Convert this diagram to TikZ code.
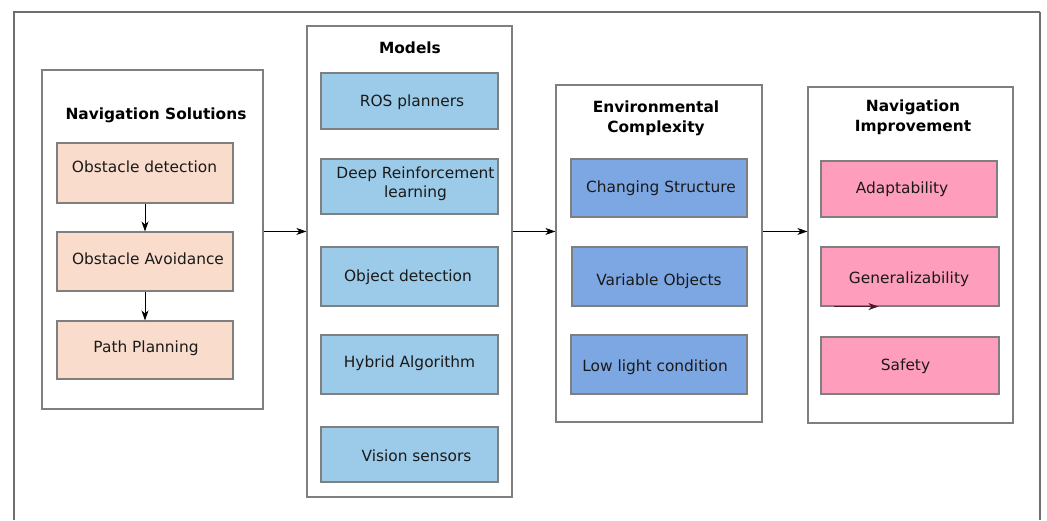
\documentclass[tikz,border=0pt]{standalone}
\usepackage{fontspec}
\setmainfont{DejaVu Sans}
\usetikzlibrary{arrows.meta}
\definecolor{peach}{HTML}{F9DCCC}
\definecolor{lblue}{HTML}{9CCBE9}
\definecolor{mblue}{HTML}{7CA7E2}
\definecolor{pinkc}{HTML}{FF9DBD}
\definecolor{edgec}{HTML}{7F7F7F}
\definecolor{framec}{HTML}{6E6E6E}
\definecolor{txtc}{HTML}{1A1A1A}
\definecolor{maroonc}{HTML}{4A1A2A}
\begin{document}
\begin{tikzpicture}[x=1pt,y=-1pt,
  group/.style={draw=edgec,line width=1.3pt,fill=white,rectangle,inner sep=0pt},
  item/.style={draw=edgec,line width=1.1pt,rectangle,inner sep=0pt},
  lbl/.style={font=\fontsize{15.4}{20}\selectfont,text=txtc,anchor=base,inner sep=0pt},
  ttl/.style={font=\fontsize{15.4}{20}\selectfont\bfseries,text=black,align=center,inner sep=0pt},
  arr/.style={draw=black,line width=0.8pt,-{Stealth[length=10pt,width=7pt,inset=3pt]}}]
\useasboundingbox (0,0) rectangle (1047,520);
% outer frame
\draw[framec,line width=1.3pt] (14,520) -- (14,12) -- (1040,12);
\draw[framec,line width=2.2pt] (1040,12) -- (1040,520);

% Navigation Solutions
\node[group,minimum width=221pt,minimum height=339pt] (ns) at (152.5,239.5) {};
\node[ttl] (nsT) at (156,115) {Navigation Solutions};
\node[item,fill=peach,minimum width=176pt,minimum height=60pt] (od) at (145,173) {};
\node[lbl] (odT) at (144.5,172.5) {Obstacle detection};
\node[item,fill=peach,minimum width=176pt,minimum height=59pt] (oa) at (145,261.5) {};
\node[lbl] (oaT) at (148,264.5) {Obstacle Avoidance};
\node[item,fill=peach,minimum width=176pt,minimum height=58pt] (pp) at (145,350) {};
\node[lbl] (ppT) at (146,352.5) {Path Planning};
\draw[arr] (od.south) -- (oa.north);
\draw[arr] (oa.south) -- (pp.north);

% Models
\node[group,minimum width=205pt,minimum height=471pt] (mo) at (409.5,261.5) {};
\node[ttl] (moT) at (410,48) {Models};
\node[item,fill=lblue,minimum width=177pt,minimum height=56pt] (ros) at (409.5,101) {};
\node[lbl] (rosT) at (412,106.5) {ROS planners};
\node[item,fill=lblue,minimum width=177pt,minimum height=55pt] (drl) at (409.5,186.5) {};
\node[ttl,font=\fontsize{15.4}{19}\selectfont,text=txtc] (drlT) at (415.5,184) {Deep Reinforcement\\learning};
\node[item,fill=lblue,minimum width=177pt,minimum height=59pt] (obj) at (409.5,276.5) {};
\node[lbl] (objT) at (408,281.5) {Object detection};
\node[item,fill=lblue,minimum width=177pt,minimum height=59pt] (hyb) at (409.5,364.5) {};
\node[lbl] (hybT) at (409.5,367.5) {Hybrid Algorithm};
\node[item,fill=lblue,minimum width=177pt,minimum height=55pt] (vis) at (409.5,454.5) {};
\node[lbl] (visT) at (416.5,461.5) {Vision sensors};

% Environmental Complexity
\node[group,minimum width=206pt,minimum height=337pt] (env) at (659,253.5) {};
\node[ttl] (envT) at (656,118) {Environmental\\Complexity};
\node[item,fill=mblue,minimum width=176pt,minimum height=58pt] (cs) at (659,188) {};
\node[lbl] (csT) at (661,192.5) {Changing Structure};
\node[item,fill=mblue,minimum width=175pt,minimum height=59pt] (vo) at (659.5,276.5) {};
\node[lbl] (voT) at (659,285.5) {Variable Objects};
\node[item,fill=mblue,minimum width=176pt,minimum height=59pt] (ll) at (659,364.5) {};
\node[lbl] (llT) at (655,371.5) {Low light condition};

% Navigation Improvement
\node[group,minimum width=205pt,minimum height=336pt] (ni) at (910.5,255) {};
\node[ttl] (niT) at (913,117) {Navigation\\Improvement};
\node[item,fill=pinkc,minimum width=176pt,minimum height=56pt] (ad) at (909,189) {};
\node[lbl] (adT) at (902,193.5) {Adaptability};
\node[item,fill=pinkc,minimum width=178pt,minimum height=59pt] (ge) at (910,276.5) {};
\node[lbl] (geT) at (909,283.5) {Generalizability};
\node[item,fill=pinkc,minimum width=178pt,minimum height=57pt] (sa) at (910,365.5) {};
\node[lbl] (saT) at (905.5,370.5) {Safety};
\coordinate (gA) at ([xshift=14pt]ge.south west);
\coordinate (gB) at ([xshift=58pt]ge.south west);
\draw[arr,draw=maroonc] (gA) -- (gB);

% main flow arrows
\draw[arr] (ns.east |- oa.north) -- (mo.west |- oa.north);
\draw[arr] (mo.east |- oa.north) -- (env.west |- oa.north);
\draw[arr] (env.east |- oa.north) -- (ni.west |- oa.north);
\end{tikzpicture}
\end{document}
